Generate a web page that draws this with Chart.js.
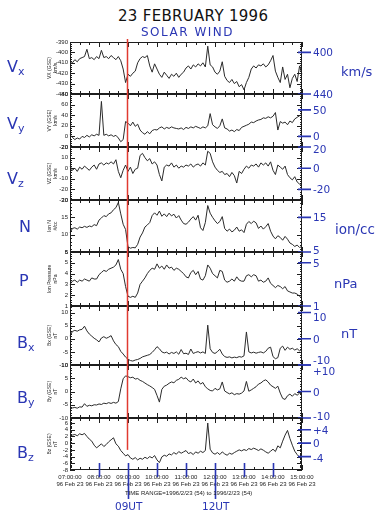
<!DOCTYPE html>
<html><head><meta charset="utf-8">
<script src="https://cdn.jsdelivr.net/npm/chart.js@4.4.1/dist/chart.umd.min.js"></script>
<style>
html,body{margin:0;padding:0;background:#fff;}
#wrap{position:relative;width:392px;height:515px;overflow:hidden;font-family:"DejaVu Sans",sans-serif;}
canvas{position:absolute;left:0;}
.t{position:absolute;white-space:nowrap;line-height:1;}
.blue{color:#2a36b4;}
</style></head><body><div id="wrap"></div>
<script>
// ---- data (5-minute samples, 1996-02-23 07:00 - 15:00 UT) ----
const times = [
'07:00','07:05','07:10','07:15','07:20','07:25','07:30','07:35','07:40','07:45','07:50','07:55',
'08:00','08:05','08:10','08:15','08:20','08:25','08:30','08:35','08:40','08:45','08:50','08:55',
'09:00','09:05','09:10','09:15','09:20','09:25','09:30','09:35','09:40','09:45','09:50','09:55',
'10:00','10:05','10:10','10:15','10:20','10:25','10:30','10:35','10:40','10:45','10:50','10:55',
'11:00','11:05','11:10','11:15','11:20','11:25','11:30','11:35','11:40','11:45','11:50','11:55',
'12:00','12:05','12:10','12:15','12:20','12:25','12:30','12:35','12:40','12:45','12:50','12:55',
'13:00','13:05','13:10','13:15','13:20','13:25','13:30','13:35','13:40','13:45','13:50','13:55',
'14:00','14:05','14:10','14:15','14:20','14:25','14:30','14:35','14:40','14:45','14:50','14:55',
'15:00'];
const hourLabels = ['07:00:00','08:00:00','09:00:00','10:00:00','11:00:00','12:00:00','13:00:00','14:00:00','15:00:00'];
const dateLabel = '96 Feb 23';
const shockTime = '08:58';

const vx = [
-408,-410,-407,-409,-406,-405,-404,-397,-406,-405,-407,-404,
-406,-398,-405,-404,-406,-403,-405,-407,-404,-408,-416,-429,
-421,-423,-420,-418,-410,-406,-404,-405,-403,-413,-419,-411,
-416,-421,-424,-419,-422,-425,-421,-423,-420,-424,-421,-419,
-415,-413,-416,-412,-414,-411,-413,-410,-414,-394,-412,-414,
-419,-421,-418,-409,-423,-427,-429,-426,-430,-428,-433,-431,
-436,-429,-424,-416,-413,-415,-412,-413,-411,-414,-412,-408,
-403,-418,-424,-429,-414,-426,-421,-434,-425,-421,-428,-413,
-421];
const vy = [
3,-2,-6,-3,-5,0,-2,2,-1,3,1,4,
2,66,2,4,1,3,0,2,-3,-10,-6,28,
25,20,27,19,23,12,7,4,9,5,11,13,
12,16,18,14,17,15,18,16,15,14,16,13,
17,15,18,16,19,17,15,18,16,20,43,22,
18,15,20,33,16,14,10,12,9,13,11,17,
19,21,23,27,26,29,31,32,35,34,37,35,
38,45,12,28,25,27,22,29,26,33,36,39,
41];
const vz = [
2,-2,0,-3,1,-1,2,0,-2,1,3,-1,
4,5,3,5,4,6,4,8,-3,-9,-2,3,
-3,1,-5,-1,0,12,14,10,7,9,4,6,
3,-6,-12,1,3,2,5,1,3,0,2,1,
3,2,4,1,3,4,2,5,3,16,14,6,
1,-2,-4,-3,-6,-5,-8,-4,-7,-14,-3,-5,
-1,2,0,3,2,4,1,5,3,5,2,6,
-2,-6,3,1,-1,2,-6,-9,-11,-8,-13,-15,
-17];
const ionN = [
10.5,11.8,12.0,11.6,12.2,12.0,12.4,12.1,12.5,12.3,12.9,12.6,
14.2,14.8,15.5,15.2,16.0,16.3,17.2,17.8,19.3,16.0,13.0,11.5,
6.5,6.1,6.3,6.2,7.2,9.3,10.5,12.2,12.8,13.5,15.5,16.3,
15.6,16.8,15.3,16.0,15.2,16.2,15.4,15.9,14.8,15.5,14.2,13.2,
13.0,13.6,14.5,15.2,14.2,15.6,12.0,11.2,13.5,18.4,16.2,15.0,
14.0,13.2,13.8,15.2,11.8,11.0,11.6,10.8,11.3,12.2,11.0,11.4,
10.6,13.0,13.8,13.2,13.9,13.4,11.8,12.5,11.6,12.3,13.2,11.0,
9.6,8.8,9.7,9.2,8.4,9.5,8.7,7.6,7.2,6.6,7.0,6.3,
6.6];
const ionP = [
3.0,3.3,3.4,3.2,3.4,3.3,3.5,3.4,3.3,3.6,3.5,3.5,
3.9,4.1,4.3,4.2,4.4,4.5,4.6,4.8,5.3,4.4,4.0,2.8,
1.9,1.8,1.9,1.8,2.2,3.0,3.3,3.6,4.0,4.3,4.5,4.4,
4.9,4.5,4.7,4.4,4.8,4.5,4.6,4.3,4.5,4.4,4.2,4.0,
3.7,3.6,4.1,4.3,3.9,4.2,3.5,3.4,3.8,4.8,4.5,4.0,
3.8,3.6,4.3,4.2,3.4,3.2,3.3,3.5,3.3,3.7,3.4,3.3,
3.3,3.8,3.9,3.7,3.9,3.8,3.3,3.4,3.2,3.3,3.6,3.1,
2.9,2.7,2.9,2.8,2.6,2.8,2.4,2.3,2.2,2.2,2.1,1.9,
2.0];
const bx = [
1.0,2.8,3.2,2.9,3.4,3.6,4.8,3.0,1.8,1.0,0.2,-0.4,
-1.2,0.3,0.8,0.2,0.6,1.2,-0.8,-2.2,-3.0,-4.8,-5.8,-7.0,
-7.8,-8.3,-8.5,-8.1,-7.9,-7.5,-6.9,-6.6,-6.3,-6.0,-5.2,-4.2,
-3.0,-3.8,-5.0,-5.4,-5.1,-5.8,-5.2,-5.6,-5.0,-5.9,-4.1,-5.7,
-5.5,-6.0,-3.9,-5.6,-5.2,-4.9,-5.4,-5.0,-5.6,5.2,-3.8,-5.2,
-5.6,-4.9,-4.0,-5.8,-6.8,-7.1,-6.9,-7.3,-7.0,-7.2,-6.8,-7.0,
-6.5,2.6,-5.0,-5.4,-5.1,-5.5,-5.2,-5.0,-5.4,-4.8,-3.6,-3.2,
-6.8,-7.6,-7.2,-3.6,-2.8,-4.4,-3.2,-4.0,-3.6,-4.3,-3.8,-4.6,
-4.0];
const by = [
-6.8,-6.2,-6.0,-6.3,-5.8,-5.9,-4.6,-5.6,-5.2,-5.4,-5.0,-5.1,
-4.7,-4.9,-4.4,-4.6,-4.2,-4.5,-4.1,-4.4,-3.8,1.0,4.8,5.9,
5.6,5.2,5.4,4.7,4.9,4.2,3.8,3.2,2.6,2.1,1.5,0.8,
-1.5,-4.0,0.8,2.0,2.4,3.1,3.6,3.3,4.2,4.6,5.4,4.8,
5.2,4.1,3.6,4.7,3.2,4.0,2.8,3.4,1.8,1.0,0.4,0.2,
1.2,0.6,1.0,3.6,0.2,-0.4,-0.9,-0.5,-1.2,-0.8,-1.0,-0.6,
0.2,3.8,0.1,0.6,1.2,1.8,2.8,3.2,4.0,4.4,3.6,2.4,
1.8,1.2,2.0,-0.6,-2.6,-3.0,-1.6,-1.0,-1.8,-0.8,-1.4,-0.6,
-1.0];
const bz = [
1.8,2.4,2.6,2.2,2.8,2.5,2.9,2.0,1.2,0.6,-0.6,-1.4,
-0.8,-0.2,-1.0,-0.4,0.4,1.0,1.6,-0.2,-0.9,-2.2,-3.0,-3.8,
-3.4,-4.4,-4.8,-4.3,-5.0,-4.5,-4.8,-4.2,-4.6,-4.0,-4.4,-3.7,
-5.0,-5.8,-4.1,-3.6,-3.9,-3.2,-3.5,-2.8,-3.3,-2.5,-3.0,-2.6,
-2.2,-3.1,-2.8,-3.4,-2.6,-3.0,-2.4,-2.8,-2.2,6.0,-1.8,-2.9,
-3.3,-2.8,-3.4,-2.6,-3.2,-3.6,-3.0,-3.3,-2.8,-2.4,-2.0,-2.3,
-1.9,-2.2,-1.6,-1.9,-1.5,-1.8,-2.2,-1.7,-2.1,-2.6,-3.0,-2.4,
-1.8,-2.5,-0.8,-1.4,0.6,2.4,3.8,1.4,-0.6,-2.4,-3.4,-4.2,
-3.8];

// ---- panel settings ----
const BLUE = '#2a36b4', RED = '#e03a30';
const panels = [
 {data:vx, min:-440, max:-390, step:10, title:['VX (GSE)','km/s'], top:42, bottom:94, name:'V', sub:'x', ly:59, lx:7, marks:[[-400,'400',0],[-440,'440',0]]},
 {data:vy, min:-20, max:80, step:20, title:['VY (GSE)','km/s'], top:94, bottom:147, name:'V', sub:'y', ly:116, lx:7, marks:[[50,'50',0],[0,'0',0]]},
 {data:vz, min:-30, max:20, step:10, title:['VZ (GSE)','km/s'], top:147, bottom:200, name:'V', sub:'z', ly:171, lx:7, marks:[[20,'20',2],[0,'0',0],[-20,'-20',0]]},
 {data:ionN, min:5, max:20, step:5, title:['Ion N','#/cc'], top:200, bottom:252, name:'N', sub:'', ly:219, lx:19, marks:[[15,'15',0],[5,'5',-2]]},
 {data:ionP, min:1, max:6, step:1, title:['Ion Pressure','nPa'], top:252, bottom:306, name:'P', sub:'', ly:273, lx:19, marks:[[5,'5',0],[1,'1',0]]},
 {data:bx, min:-10, max:12.5, step:5, title:['Bx (GSE)','nT'], top:306, bottom:365, name:'B', sub:'x', ly:335, lx:17, marks:[[10,'10',4],[0,'0',0],[-10,'-10',-5]]},
 {data:by, min:-10, max:10, step:5, title:['By (GSE)','nT'], top:365, bottom:418, name:'B', sub:'y', ly:390, lx:17, marks:[[10,'+10',6],[0,'0',0],[-10,'-10',-2]]},
 {data:bz, min:-8, max:7.5, step:2, title:['Bz (GSE)','nT'], top:418, bottom:470, name:'B', sub:'z', ly:445, lx:17, marks:[[4,'+4',0],[0,'0',0],[-4,'-4',1]]}
];
const units = [['km/s',341,65,13],['ion/cc',335,223,13.5],['nPa',334,277,13],['nT',341,327,13]];

function tIndex(s){const [h,m]=s.split(':').map(Number);return ((h-7)*60+m)/5;}

const framePlugin = {
  id:'frame',
  afterDatasetsDraw(chart, args, o){
    const {ctx, chartArea:a, scales:{x,y}} = chart;
    ctx.save();
    ctx.strokeStyle='#1e1e1e'; ctx.lineWidth=1;
    ctx.strokeRect(Math.round(a.left)+0.5, Math.round(a.top)+0.5, Math.round(a.right-a.left)-1, Math.round(a.bottom-a.top)-1);
    ctx.beginPath();
    for(let i=0;i<times.length;i+=4){
      const px=Math.round(x.getPixelForValue(i))+0.5;
      const len = i%12===0?5:3;
      ctx.moveTo(px,a.top); ctx.lineTo(px,a.top+len);
      ctx.moveTo(px,a.bottom); ctx.lineTo(px,a.bottom-len);
    }
    const minor=o.step/5;
    for(let k=Math.ceil(o.min/minor);k*minor<=o.max+1e-9;k++){
      const v=k*minor;
      const py=Math.round(y.getPixelForValue(v))+0.5;
      const len = (k%5===0)?5:2;
      ctx.moveTo(a.left,py); ctx.lineTo(a.left+len,py);
      ctx.moveTo(a.right,py); ctx.lineTo(a.right-len,py);
    }
    ctx.stroke();
    // shock line
    const sx = Math.round(x.getPixelForValue(tIndex(shockTime)))+0.5;
    ctx.strokeStyle=RED; ctx.lineWidth=1.5;
    ctx.beginPath();
    ctx.moveTo(sx, o.first? a.top-3 : a.top);
    ctx.lineTo(sx, o.last? y.getPixelForValue(-2) : a.bottom);
    ctx.stroke();
    // blue value marks on right axis
    ctx.strokeStyle=BLUE; ctx.lineWidth=1.6;
    ctx.beginPath();
    for(const m of o.marks){
      const py=y.getPixelForValue(m[0]);
      ctx.moveTo(a.right-4,py); ctx.lineTo(a.right+9,py);
    }
    ctx.stroke();
    if(o.last){
      ctx.beginPath();
      for(let h=8;h<=14;h++){
        const px=x.getPixelForValue((h-7)*12)+0.5;
        ctx.moveTo(px,a.bottom-7);
        ctx.lineTo(px,(h===9||h===12)? a.bottom+29 : a.bottom+7);
      }
      ctx.stroke();
    }
    ctx.restore();
  }
};

const wrap=document.getElementById('wrap');
function addText(txt,x,y,size,cls,extra){
  const d=document.createElement('div');
  d.className='t '+(cls||'');
  d.style.left=x+'px'; d.style.top=y+'px'; d.style.fontSize=size+'px';
  if(extra) Object.assign(d.style,extra);
  d.textContent=txt; wrap.appendChild(d); return d;
}

const XH=22;
panels.forEach((p,i)=>{
  const last = i===panels.length-1;
  const cTop = p.top-6;
  const ph = p.bottom-p.top;
  const cH = last ? 515-cTop : ph+12;
  const cv=document.createElement('canvas');
  cv.width=392; cv.height=cH; cv.style.top=cTop+'px';
  wrap.appendChild(cv);
  const chart = new Chart(cv.getContext('2d'),{
    type:'line',
    data:{labels:times, datasets:[{data:p.data, borderColor:'#2b2b2b', borderWidth:1, pointRadius:0, tension:0, fill:false}]},
    options:{
      responsive:false, animation:false, devicePixelRatio:1,
      layout:{padding:{left:47, right:90, top:6, bottom: last ? cH-6-ph-XH : 6}},
      plugins:{legend:{display:false}, tooltip:{enabled:false},
        frame:{min:p.min,max:p.max,step:p.step,marks:p.marks,first:i===0,last:last}},
      scales:{
        x:{type:'category', display:last, offset:false,
           grid:{display:false, drawTicks:false}, border:{display:false},
           afterFit(s){ s.height = last ? XH : 0; },
           ticks:{autoSkip:false, maxRotation:0, padding:4, color:'#222',
             font:{size:6, family:'Liberation Sans', lineHeight:1.15},
             callback:(v,idx)=> idx%12===0 ? [hourLabels[idx/12], dateLabel] : null}},
        y:{min:p.min, max:p.max, position:'left',
           afterFit(s){ s.width=23; },
           grid:{display:false, drawTicks:false}, border:{display:false},
           ticks:{stepSize:p.step, includeBounds:false, autoSkip:false, padding:2, color:'#222', font:{size:6, family:'Liberation Sans'}},
           title:{display:true, text:p.title, color:'#222', padding:0, font:{size:5, family:'Liberation Sans', lineHeight:1.1}}}
      }
    },
    plugins:[framePlugin]
  });
  // handwritten panel labels
  addText(p.name,p.lx,p.ly,16,'blue');
  if(p.sub) addText(p.sub,p.lx+(p.name==='V'?11:11),p.ly+7,11,'blue');
  // blue value labels
  const ys=chart.scales.y, ca=chart.chartArea;
  p.marks.forEach(m=>{
    const py=cTop+ys.getPixelForValue(m[0])+(m[2]||0);
    addText(m[1], ca.right+11, py-5, 10.5, 'blue');
  });
  if(last){
    const xs=chart.scales.x;
    addText('09UT', xs.getPixelForValue(24)-13, cTop+ca.bottom+31, 10.5, 'blue');
    addText('12UT', xs.getPixelForValue(60)-13, cTop+ca.bottom+31, 10.5, 'blue');
  }
});
units.forEach(u=>addText(u[0],u[1],u[2],u[3],'blue'));
addText('23 FEBRUARY 1996',118,9,15,'',{color:'#111',letterSpacing:'0.3px'});
addText('SOLAR WIND',141,26,12,'blue',{letterSpacing:'1.5px'});
addText('TIME RANGE=1996/2/23 (54) to 1996/2/23 (54)',125,490,6,'',{color:'#222',fontFamily:'Liberation Sans'});
</script></body></html>
